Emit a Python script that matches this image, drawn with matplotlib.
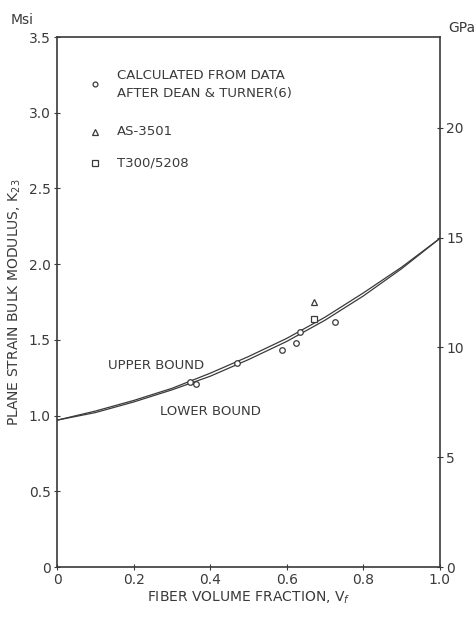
import matplotlib
matplotlib.use("Agg")
import matplotlib.pyplot as plt
import numpy as np

# bound curves (Msi) vs fiber volume fraction
vf_curve = [0.0, 0.1, 0.2, 0.3, 0.4, 0.5, 0.6, 0.7, 0.8, 0.9, 1.0]
upper_bound = [0.97, 1.03, 1.10, 1.18, 1.28, 1.39, 1.51, 1.65, 1.81, 1.98, 2.17]
lower_bound = [0.97, 1.02, 1.09, 1.17, 1.26, 1.37, 1.49, 1.63, 1.79, 1.97, 2.17]

# data points
vf_calc = [0.347, 0.363, 0.470, 0.587, 0.624, 0.634, 0.726]
k_calc = [1.22, 1.21, 1.35, 1.43, 1.48, 1.55, 1.62]
vf_as = [0.671]
k_as = [1.75]
vf_t300 = [0.671]
k_t300 = [1.64]

MSI_TO_GPA = 6.895
ink = "#3a3a3a"

plt.rcParams['font.family'] = ['DejaVu Sans']

fig = plt.figure(figsize=(4.76, 6.18), dpi=100)
ax = fig.add_axes([0.120, 0.0825, 0.804, 0.8575])

ax.plot(vf_curve, upper_bound, color=ink, lw=0.9)
ax.plot(vf_curve, lower_bound, color=ink, lw=0.9)
ax.plot(vf_calc, k_calc, "o", ms=4, mfc="white", mec=ink, mew=0.9)
ax.plot(vf_as, k_as, "^", ms=5, mfc="white", mec=ink, mew=0.9)
ax.plot(vf_t300, k_t300, "s", ms=5, mfc="white", mec=ink, mew=0.9)

ax.set_xlim(0, 1.0)
ax.set_ylim(0, 3.5)
ax.set_xticks([0, 0.2, 0.4, 0.6, 0.8, 1.0])
ax.set_xticklabels(["0", "0.2", "0.4", "0.6", "0.8", "1.0"])
ax.set_yticks([0, 0.5, 1.0, 1.5, 2.0, 2.5, 3.0, 3.5])
ax.set_yticklabels(["0", "0.5", "1.0", "1.5", "2.0", "2.5", "3.0", "3.5"])
ax.tick_params(direction="inout", length=5, width=0.8, colors=ink, labelsize=10, pad=2)
for s in ax.spines.values():
    s.set_color(ink)
    s.set_linewidth(1.2)

ax2 = ax.twinx()
ax2.set_ylim(0, 3.5 * MSI_TO_GPA)
ax2.set_yticks([0, 5, 10, 15, 20])
ax2.tick_params(direction="inout", length=5, width=0.8, colors=ink, labelsize=10, pad=2)
for s in ax2.spines.values():
    s.set_visible(False)

ax.set_xlabel("FIBER VOLUME FRACTION, V$_f$", fontsize=10, color=ink, labelpad=2)
ax.set_ylabel("PLANE STRAIN BULK MODULUS, K$_{23}$", fontsize=10, color=ink, labelpad=4)
fig.text(0.046, 0.967, "Msi", fontsize=10, color=ink, ha="center", va="center")
fig.text(0.970, 0.955, "GPa", fontsize=10, color=ink, ha="center", va="center")

# legend drawn as text
ax.plot([0.099], [3.19], "o", ms=3.5, mfc="white", mec=ink, mew=0.9)
ax.text(0.157, 3.245, "CALCULATED FROM DATA", fontsize=9.5, color=ink, va="center")
ax.text(0.157, 3.125, "AFTER DEAN & TURNER(6)", fontsize=9.5, color=ink, va="center")
ax.plot([0.099], [2.875], "^", ms=4, mfc="white", mec=ink, mew=0.9)
ax.text(0.157, 2.875, "AS-3501", fontsize=9.5, color=ink, va="center")
ax.plot([0.099], [2.67], "s", ms=4, mfc="white", mec=ink, mew=0.9)
ax.text(0.157, 2.67, "T300/5208", fontsize=9.5, color=ink, va="center")

ax.text(0.132, 1.33, "UPPER BOUND", fontsize=9.5, color=ink, va="center")
ax.text(0.268, 1.03, "LOWER BOUND", fontsize=9.5, color=ink, va="center")

fig.savefig("out.png", dpi=100, facecolor="white")
